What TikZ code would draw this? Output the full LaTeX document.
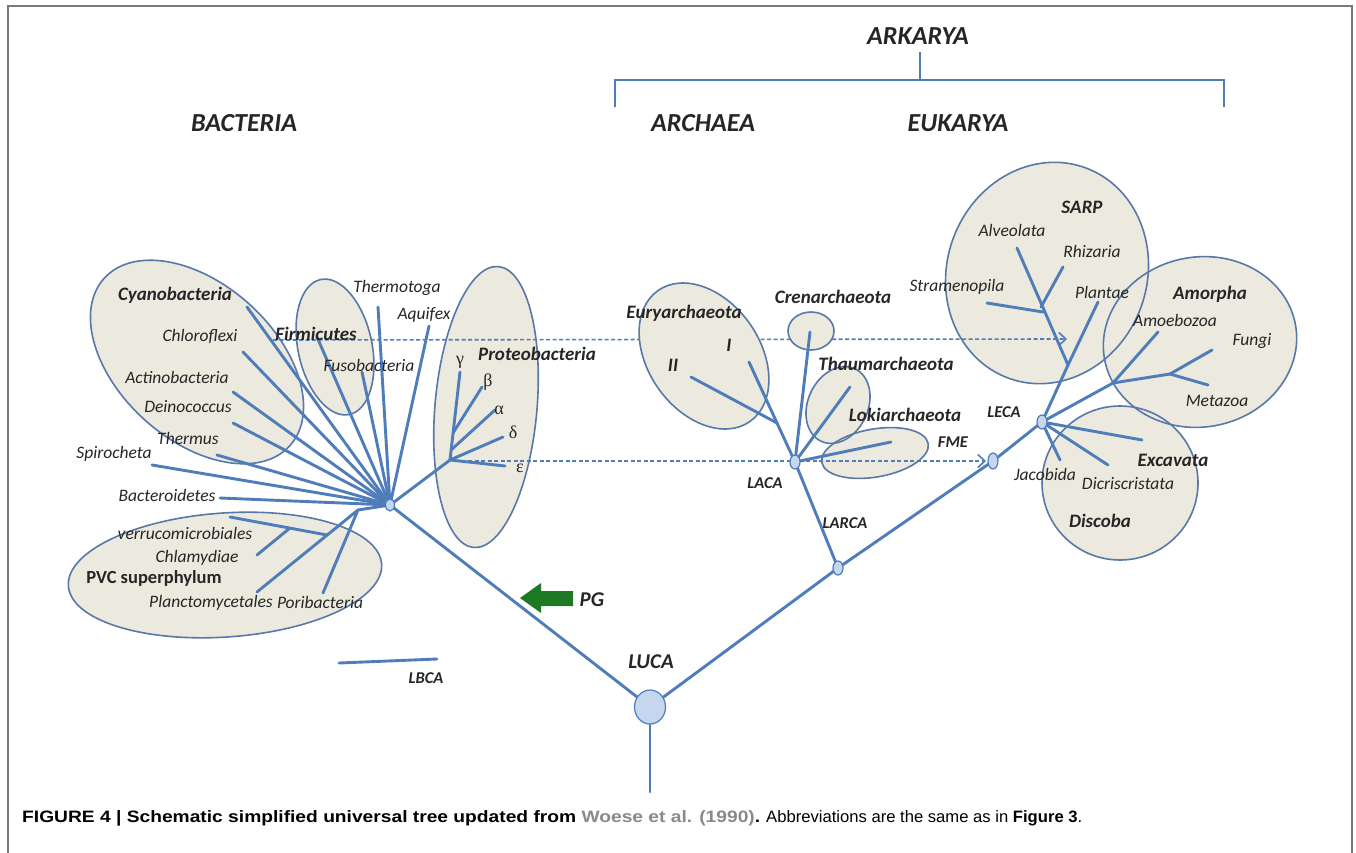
\documentclass[tikz,border=0pt]{standalone}
\usepackage{fontspec}
\setmainfont{Carlito}
\newfontfamily\capfont{Liberation Sans}
\newfontfamily\grk{Liberation Serif}
\usetikzlibrary{shapes.geometric,arrows.meta}
\definecolor{br}{HTML}{4F7DBA}
\definecolor{ol}{HTML}{5878A8}
\definecolor{bg}{HTML}{ECE9DF}
\definecolor{nd}{HTML}{C5D7EF}
\definecolor{tx}{HTML}{262626}
\definecolor{pgc}{HTML}{1E7A22}
\definecolor{frm}{HTML}{7A7A7A}
\definecolor{cgray}{HTML}{8A8A8A}
\newcommand\grpE[6]{\path[#1,rotate around={#6:(#2,#3)}] (#2,#3) ellipse [x radius=#4pt, y radius=#5pt];}
\newcommand\backEllipses[1]{%
  \grpE{#1}{197}{362}{125}{78}{-42}% Cyanobacteria
  \grpE{#1}{335}{347}{37}{69}{12}% Firmicutes
  \grpE{#1}{486}{407}{51}{141}{-5}% Proteobacteria
  \grpE{#1}{225}{575}{157}{62}{4}% PVC
  \grpE{#1}{838}{405}{30}{40}{-25}% Thaum
  \grpE{#1}{875}{453}{54}{24}{10}% Loki
  \grpE{#1}{1047}{273}{100}{112}{-20}% SARP
  \grpE{#1}{1200}{342}{97}{85}{10}% Amorpha
  \grpE{#1}{1120}{483}{78}{77}{0}% Discoba
}
\newcommand\frontEllipses[1]{%
  \grpE{#1}{704}{356}{56}{80}{35}% Euryarchaeota
  \grpE{#1}{811}{331}{23}{19}{0}% Crenarchaeota
}
\begin{document}
\begin{tikzpicture}[x=1pt,y=-1pt,
  branch/.style={draw=br,line width=2.9pt,line cap=round},
  grpfill/.style={fill=bg},
  grpline/.style={draw=ol,line width=1.6pt},
  jn/.style={ellipse,draw=br,fill=nd,line width=1.2pt,inner sep=0pt,minimum width=10pt,minimum height=14pt},
  dashline/.style={draw=br,line width=1.6pt,dash pattern=on 4pt off 2.5pt,-{Straight Barb[length=7pt,width=13pt]}},
  lab/.style={font=\fontsize{17.5}{17.5}\selectfont\itshape,text=tx,inner sep=0pt},
  blab/.style={font=\fontsize{19}{19}\selectfont\bfseries\itshape,text=tx,inner sep=0pt},
  slab/.style={font=\fontsize{16.5}{16.5}\selectfont\bfseries\itshape,text=tx,inner sep=0pt},
  glab/.style={font=\fontsize{18}{18}\selectfont\grk,text=tx,inner sep=0pt},
  head/.style={font=\fontsize{26}{26}\selectfont\bfseries\itshape,text=tx,inner sep=0pt},
  capt/.style={anchor=west,inner sep=0pt,text=black}]
\useasboundingbox (0,0) rectangle (1356,853);
\fill[white] (0,0) rectangle (1356,853);
\draw[frm,line width=1.6pt] (8,853) -- (8,6) -- (1352,6) -- (1352,853);

% ---------- coordinates ----------
\coordinate (hub) at (390,505);
\coordinate (cyT) at (247,307);
\coordinate (chT) at (243,352);
\coordinate (acT) at (233,392);
\coordinate (deT) at (233,423);
\coordinate (thT) at (217,455);
\coordinate (spT) at (152,465);
\coordinate (baT) at (220,498);
\coordinate (fiT) at (317,337);
\coordinate (fuT) at (362,372);
\coordinate (tgT) at (378,307);
\coordinate (aqT) at (429,326);
\coordinate (pvJ) at (358,510);
\coordinate (plcT) at (257,592);
\coordinate (poT) at (323,593);
\coordinate (veT) at (230,517);
\coordinate (veJ) at (327,535);
\coordinate (clT) at (257,555);
\coordinate (clJ) at (290,528);
\coordinate (pB0) at (450,460);
\coordinate (gaT) at (460,372);
\coordinate (beJ) at (453,433);
\coordinate (beT) at (482,387);
\coordinate (alJ) at (451,450);
\coordinate (alT) at (495,410);
\coordinate (dlT) at (503,437);
\coordinate (epT) at (505,466);
\coordinate (luca) at (650,707);
\coordinate (root) at (650,792);
\coordinate (larca) at (838,568);
\coordinate (laca) at (795,462);
\coordinate (eJ) at (777,423);
\coordinate (iiT) at (691,377);
\coordinate (iT) at (749,362);
\coordinate (crT) at (810,332);
\coordinate (thaT) at (850,387);
\coordinate (lokT) at (891,442);
\coordinate (fme) at (993,461);
\coordinate (fmeW) at (986,461);
\coordinate (leca) at (1042,422);
\coordinate (plaT) at (1098,302);
\coordinate (alvJ) at (1068,365);
\coordinate (alvT) at (1017,248);
\coordinate (rhJ) at (1041,307);
\coordinate (rhT) at (1063,267);
\coordinate (stJ) at (1043,312);
\coordinate (stT) at (987,303);
\coordinate (am1) at (1113,383);
\coordinate (amoT) at (1158,332);
\coordinate (am2) at (1170,374);
\coordinate (fgT) at (1212,350);
\coordinate (meT) at (1208,385);
\coordinate (exT) at (1142,440);
\coordinate (dicT) at (1108,465);
\coordinate (jaT) at (1060,460);
\coordinate (lb1) at (339,663);
\coordinate (lb2) at (437,659);
\coordinate (d1s) at (273,340);
\coordinate (d1e) at (1067,339);
\coordinate (d2s) at (455,461);
\coordinate (hdTop) at (920,52);
\coordinate (hdMid) at (920,80);
\coordinate (hdL) at (615,80);
\coordinate (hdR) at (1224,80);
\coordinate (hdLb) at (615,107);
\coordinate (hdRb) at (1224,107);

% ---------- header ----------
\node[head] (arkarya) at (918,36) {ARKARYA};
\draw[br,line width=1.8pt] (hdTop) -- (hdMid);
\draw[br,line width=1.8pt] (hdLb) -- (hdL) -- (hdR) -- (hdRb);
\node[head] (bacteria) at (244,123) {BACTERIA};
\node[head] (archaea) at (703,123) {ARCHAEA};
\node[head] (eukarya) at (958,123) {EUKARYA};

% ---------- group ellipses ----------
\backEllipses{grpfill}
\backEllipses{grpline}
\draw[dashline] (d1s) -- (d1e);
\draw[dashline] (d2s) -- (fmeW);
\frontEllipses{grpfill}
\frontEllipses{grpline}

% ---------- branches ----------
\foreach \t in {cyT,chT,acT,deT,thT,spT,baT,fiT,fuT,tgT,aqT}
  \draw[branch] (hub) -- (\t);
\draw[branch] (hub) -- (pvJ);
\draw[branch] (pvJ) -- (plcT);
\draw[branch] (pvJ) -- (poT);
\draw[branch] (veT) -- (veJ);
\draw[branch] (clT) -- (clJ);
\draw[branch] (hub) -- (pB0);
\draw[branch] (pB0) -- (gaT);
\draw[branch] (beJ) -- (beT);
\draw[branch] (alJ) -- (alT);
\draw[branch] (pB0) -- (dlT);
\draw[branch] (pB0) -- (epT);
\draw[branch] (hub) -- (luca);
\draw[branch] (luca) -- (root);
\draw[branch] (luca) -- (larca);
\draw[branch] (larca) -- (fme);
\draw[branch] (fme) -- (leca);
\draw[branch] (larca) -- (laca);
\draw[branch] (laca) -- (eJ);
\draw[branch] (eJ) -- (iiT);
\draw[branch] (eJ) -- (iT);
\draw[branch] (laca) -- (crT);
\draw[branch] (laca) -- (thaT);
\draw[branch] (laca) -- (lokT);
\draw[branch] (leca) -- (alvJ);
\draw[branch] (alvJ) -- (plaT);
\draw[branch] (alvJ) -- (alvT);
\draw[branch] (rhJ) -- (rhT);
\draw[branch] (stJ) -- (stT);
\draw[branch] (leca) -- (am1);
\draw[branch] (am1) -- (amoT);
\draw[branch] (am1) -- (am2);
\draw[branch] (am2) -- (fgT);
\draw[branch] (am2) -- (meT);
\draw[branch] (leca) -- (exT);
\draw[branch] (leca) -- (dicT);
\draw[branch] (leca) -- (jaT);
\draw[branch] (lb1) -- (lb2);

% ---------- junction nodes ----------
\node[jn,minimum width=9pt,minimum height=12pt] (hubN) at (hub) {};
\node[jn] (lacaN) at (laca) {};
\node[jn] (larcaN) at (larca) {};
\node[jn,minimum height=16pt] (fmeN) at (fme) {};
\node[jn] (lecaN) at (leca) {};
\node[jn,minimum width=31pt,minimum height=34pt] (lucaN) at (luca) {};

% ---------- PG arrow ----------
\fill[pgc] (520,598) -- (541,583) -- (541,591) -- (573,591) -- (573,606) -- (541,606) -- (541,613) -- cycle;

% ---------- labels ----------
\node[blab] (l-cyano) at (175,295) {Cyanobacteria};
\node[lab] (l-chloro) at (200,336) {Chloroflexi};
\node[lab] (l-actino) at (177,377) {Actinobacteria};
\node[lab] (l-deino) at (188,407) {Deinococcus};
\node[lab] (l-thermus) at (188,438) {Thermus};
\node[lab] (l-spiro) at (114,454) {Spirocheta};
\node[lab] (l-bactero) at (167,495) {Bacteroidetes};
\node[blab] (l-firmi) at (316,334) {Firmicutes};
\node[lab] (l-fuso) at (369,365) {Fusobacteria};
\node[lab] (l-thermo) at (397,288) {Thermotoga};
\node[lab] (l-aqui) at (424,315) {Aquifex};
\node[blab] (l-proteo) at (537,354) {Proteobacteria};
\node[glab] (l-ga) at (460,362) {γ};
\node[glab] (l-be) at (488,382) {β};
\node[glab] (l-al) at (499,410) {α};
\node[glab] (l-dl) at (513,432) {δ};
\node[glab] (l-ep) at (520,468) {ε};
\node[lab] (l-verru) at (185,533) {verrucomicrobiales};
\node[lab] (l-chlam) at (197,558) {Chlamydiae};
\node[font=\fontsize{18.5}{18.5}\selectfont\bfseries,text=tx,inner sep=0pt] (l-pvc) at (154,578) {PVC superphylum};
\node[lab] (l-planc) at (211,603) {Planctomycetales};
\node[lab] (l-pori) at (320,602) {Poribacteria};
\node[slab] (l-lbca) at (426,678) {LBCA};
\node[blab,font=\fontsize{21}{21}\selectfont\bfseries\itshape] (l-pg) at (592,600) {PG};
\node[blab,font=\fontsize{21}{21}\selectfont\bfseries\itshape] (l-luca) at (651,662) {LUCA};
\node[blab] (l-eury) at (684,313) {Euryarchaeota};
\node[blab] (l-i) at (729,345) {I};
\node[blab] (l-ii) at (673,365) {II};
\node[blab] (l-cren) at (833,297) {Crenarchaeota};
\node[blab] (l-thaum) at (886,364) {Thaumarchaeota};
\node[blab] (l-loki) at (905,415) {Lokiarchaeota};
\node[slab] (l-laca) at (765,483) {LACA};
\node[slab] (l-larca) at (845,523) {LARCA};
\node[slab] (l-fme) at (953,442) {FME};
\node[slab] (l-leca) at (1004,412) {LECA};
\node[blab] (l-sarp) at (1082,207) {SARP};
\node[lab] (l-alveo) at (1012,230) {Alveolata};
\node[lab] (l-rhiz) at (1092,251) {Rhizaria};
\node[lab] (l-stram) at (957,287) {Stramenopila};
\node[lab] (l-plant) at (1102,292) {Plantae};
\node[blab] (l-amor) at (1210,294) {Amorpha};
\node[lab] (l-amoe) at (1175,320) {Amoebozoa};
\node[lab] (l-fungi) at (1252,341) {Fungi};
\node[lab] (l-meta) at (1217,401) {Metazoa};
\node[blab] (l-exca) at (1173,460) {Excavata};
\node[lab] (l-jaco) at (1045,474) {Jacobida};
\node[lab] (l-dicr) at (1128,484) {Dicriscristata};
\node[blab] (l-disc) at (1100,521) {Discoba};

% ---------- caption ----------
\node[capt] (caption) at (22,818) {\resizebox{738pt}{\height}{\capfont\fontsize{16.5}{17}\selectfont\bfseries FIGURE 4 | Schematic simplified universal tree updated from \textcolor{cgray}{Woese et al. (1990)}.}\hspace{6pt}\resizebox{316pt}{\height}{\capfont\fontsize{16.5}{17}\selectfont Abbreviations are the same as in \textbf{Figure 3}.}};
\end{tikzpicture}
\end{document}
